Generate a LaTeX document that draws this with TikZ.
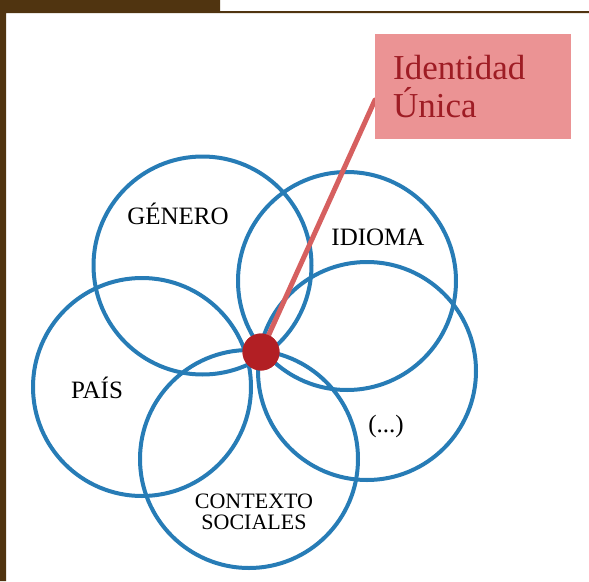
\documentclass[tikz,border=0pt]{standalone}
\usepackage{fontspec}
\setmainfont{Liberation Serif}
\usetikzlibrary{calc}
\definecolor{nau}{RGB}{80,52,16}
\definecolor{xanh}{RGB}{39,124,182}
\definecolor{do}{RGB}{178,31,36}
\definecolor{hong}{RGB}{235,147,148}
\definecolor{chudo}{RGB}{158,28,36}
\definecolor{duong}{RGB}{214,96,96}
\begin{document}
\begin{tikzpicture}[x=1pt,y=-1pt,line join=round, line cap=round,
    nhan/.style={font=\fontsize{25}{27}\selectfont,anchor=base,inner sep=0pt}]% Identidad
  \def\r{109}% Ban kinh vong tron
  \useasboundingbox (0,0) rectangle (589,581);
  % Khung nau
  \fill[nau](0,0)rectangle(220,11)(0,11)rectangle(589,13)(0,0)rectangle(6,581);
  % Tam cac vong tron
  \path(202.5,265.5)coordinate(G)(347,281)coordinate(I)(367,371)coordinate(K)
       (249,459)coordinate(C)(142,387)coordinate(P);
  \foreach \d in{G,I,K,C,P}
  \draw[xanh,line width=4pt](\d)circle(\r pt);
  % Nhan
  \node[nhan](gen) at (178,224){GÉNERO};
  \node[nhan](idi) at (378,245){IDIOMA};
  \node[nhan](pai) at (97,398){PAÍS};
  \node[nhan](etc) at (386,432){(...)};
  \node[font=\fontsize{22}{21}\selectfont,align=center,inner sep=0pt](con) at (254,512){CONTEXTO\\SOCIALES};
  % Diem chung va hop
  \coordinate (dau) at (375,100);
  \node[circle,fill=do,minimum size=37pt,inner sep=0pt](tam) at (261,352){};
  \draw[duong,line width=5pt](tam.center)--(dau);
  \fill[do](tam)circle(18.5pt);
  \node[fill=hong,anchor=north west,minimum height=105pt,text width=160pt,inner xsep=18pt,inner ysep=0pt,
        align=left,text=chudo,font=\fontsize{35}{38}\selectfont](hop) at (375,34){Identidad\\Única};
\end{tikzpicture}
\end{document}
